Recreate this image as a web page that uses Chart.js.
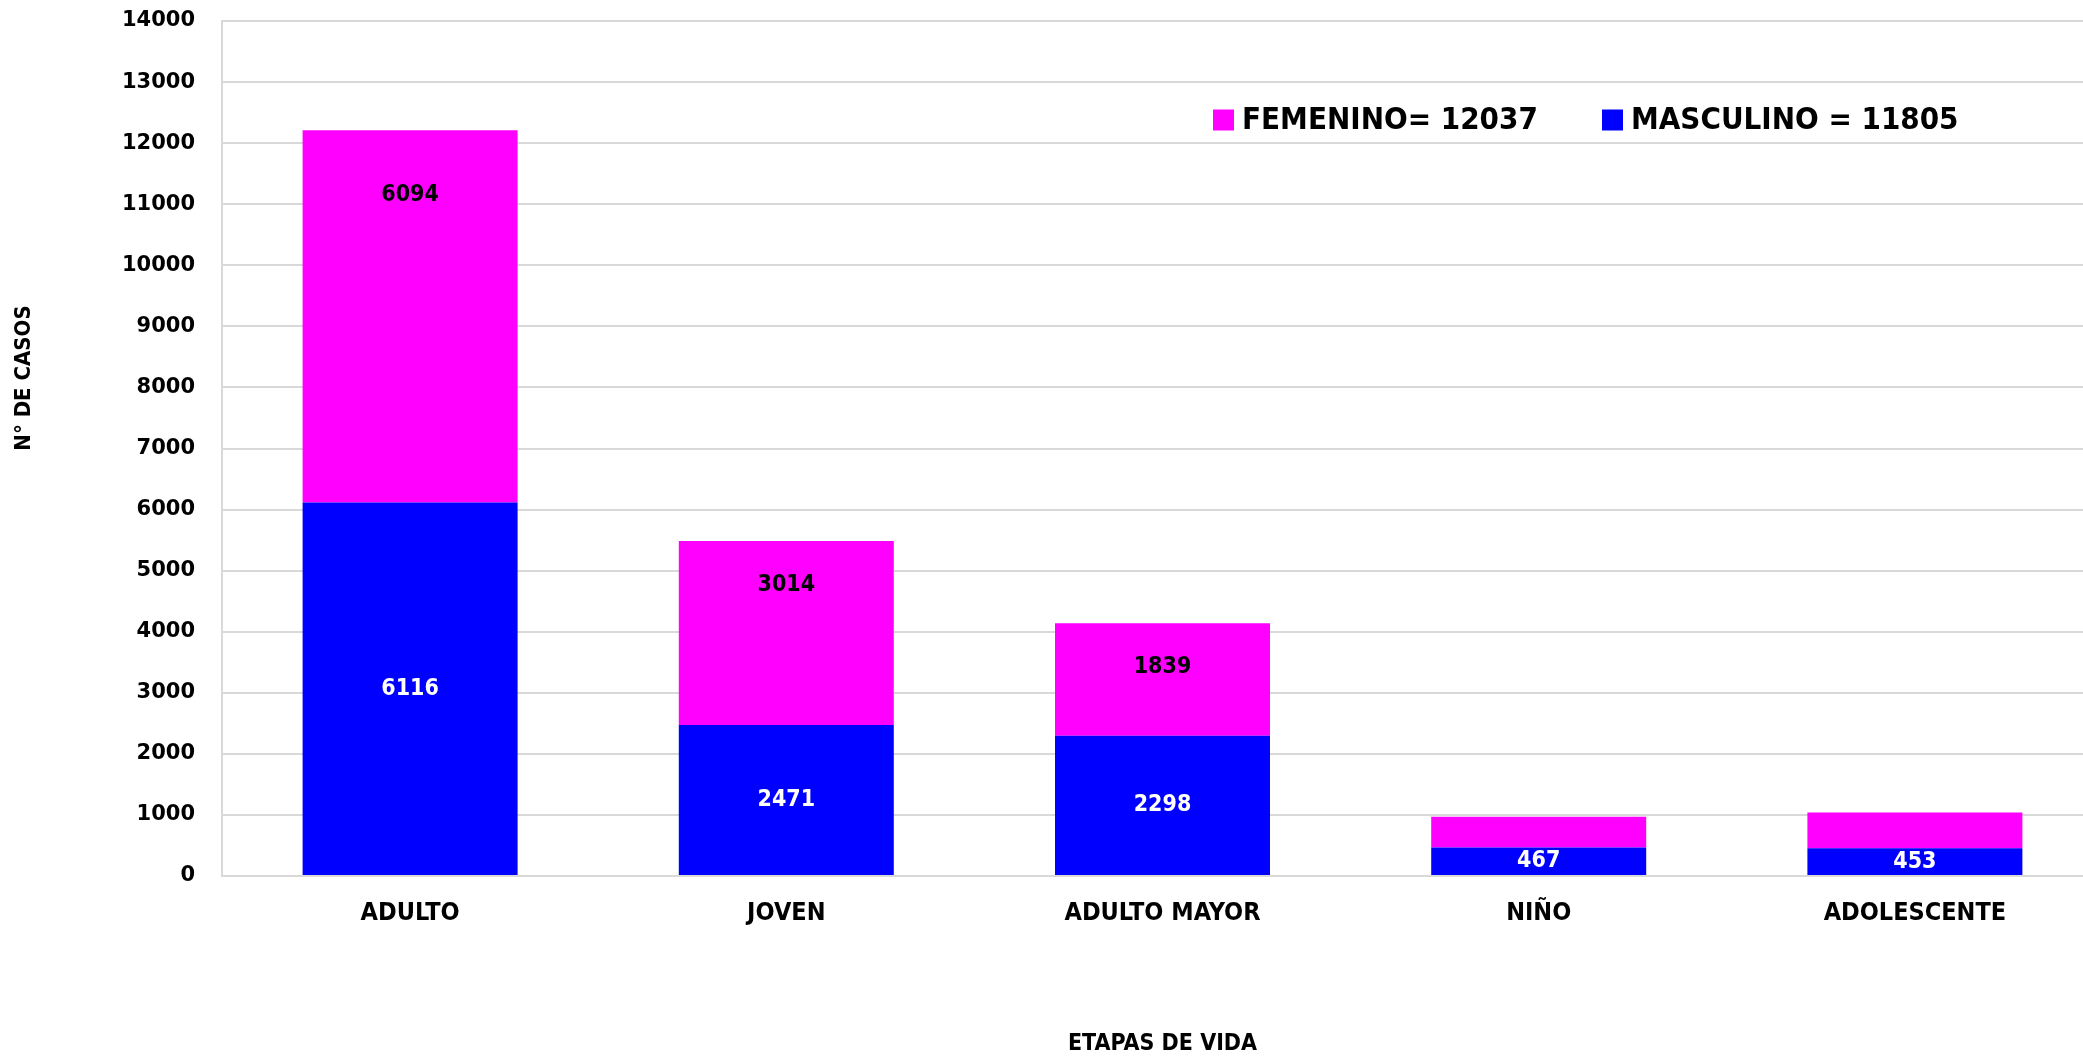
<!DOCTYPE html>
<html>
<head>
<meta charset="utf-8">
<script src="https://cdn.jsdelivr.net/npm/chart.js@4.4.1/dist/chart.umd.min.js"></script>
<style>
  html, body { margin: 0; padding: 0; background: #ffffff; overflow: hidden; }
  #wrap { position: absolute; left: 0; top: 0; width: 2103px; height: 1058px; }
</style>
</head>
<body>
<div id="wrap"><canvas id="c" width="2103" height="1058"></canvas></div>
<script>
// ---- data ----
const categories = ['ADULTO', 'JOVEN', 'ADULTO MAYOR', 'NIÑO', 'ADOLESCENTE'];
const masculino = [6116, 2471, 2298, 467, 453];
const femenino = [6094, 3014, 1839, 505, 585];
const seriesNames = ['MASCULINO = 11805', 'FEMENINO= 12037'];
const masculinoLabelShown = [true, true, true, true, true];
const femeninoLabelShown = [true, true, true, false, false];
const yTicks = [0, 1000, 2000, 3000, 4000, 5000, 6000, 7000, 8000, 9000, 10000, 11000, 12000, 13000, 14000];
const xAxisTitle = 'ETAPAS DE VIDA';
const yAxisTitle = 'N° DE CASOS';

// ---- styles ----
const BLUE = '#0000FF';
const MAGENTA = '#FF00FF';
const GRID = '#d9d9d9';
const NARROW = "'Liberation Sans Narrow', 'DejaVu Sans Condensed', 'Arial Narrow', sans-serif";

const barLabelPlugin = {
  id: 'barLabels',
  afterDatasetsDraw(chart, args, opts) {
    const ctx = chart.ctx;
    ctx.save();
    ctx.font = 'bold 23px ' + NARROW;
    ctx.textAlign = 'center';
    ctx.textBaseline = 'middle';
    const shown = [masculinoLabelShown, femeninoLabelShown];
    chart.data.datasets.forEach((ds, i) => {
      const meta = chart.getDatasetMeta(i);
      meta.data.forEach((bar, j) => {
        if (!shown[i][j]) return;
        const y = i === 0 ? (bar.y + bar.base) / 2 : bar.y + opts.topOffsets[j];
        ctx.fillStyle = opts.colors[i];
        ctx.fillText(String(ds.data[j]), bar.x, y);
      });
    });
    ctx.restore();
  }
};

const overlayPlugin = {
  id: 'overlay',
  afterDraw(chart, args, opts) {
    const ctx = chart.ctx;
    const area = chart.chartArea;
    ctx.save();
    // y axis title
    ctx.font = 'bold 22px ' + NARROW;
    ctx.fillStyle = '#000';
    ctx.textAlign = 'center';
    ctx.textBaseline = 'middle';
    ctx.translate(opts.yTitleX, area.top + opts.yTitleDy);
    ctx.rotate(-Math.PI / 2);
    ctx.fillText(yAxisTitle, 0, 0);
    ctx.restore();

    // legend (femenino first, then masculino)
    ctx.save();
    ctx.font = 'bold 31px ' + NARROW;
    ctx.textAlign = 'left';
    ctx.textBaseline = 'middle';
    const order = [1, 0];
    order.forEach((di, k) => {
      const ds = chart.data.datasets[di];
      const bx = opts.legendX[k];
      const cy = area.top + opts.legendDy;
      ctx.fillStyle = ds.backgroundColor;
      ctx.fillRect(bx, cy - 10.5, 21, 21);
      ctx.fillStyle = '#000';
      ctx.fillText(ds.label, bx + 29, cy + 1);
    });
    ctx.restore();
  }
};

new Chart(document.getElementById('c'), {
  type: 'bar',
  data: {
    labels: categories,
    datasets: [
      { label: seriesNames[0], data: masculino, backgroundColor: BLUE, borderWidth: 0 },
      { label: seriesNames[1], data: femenino, backgroundColor: MAGENTA, borderWidth: 0 }
    ]
  },
  options: {
    responsive: false,
    animation: false,
    layout: { padding: { top: 21, right: 0, bottom: 0, left: 0 } },
    datasets: { bar: { categoryPercentage: 1.0, barPercentage: 0.5715 } },
    plugins: {
      legend: { display: false },
      tooltip: { enabled: false },
      barLabels: { colors: ['#ffffff', '#000000'], topOffsets: [65, 44, 44, 40, 40] },
      overlay: { yTitleX: 24, yTitleDy: 357, legendX: [1213, 1602], legendDy: 99 }
    },
    scales: {
      x: {
        stacked: true,
        grid: { display: false, drawTicks: false },
        border: { display: false },
        ticks: {
          color: '#000',
          padding: 22,
          maxRotation: 0,
          font: { family: NARROW, size: 25, weight: 'bold' }
        },
        title: {
          display: true,
          text: xAxisTitle,
          color: '#000',
          padding: { top: 0, bottom: 2 },
          font: { family: NARROW, size: 23, weight: 'bold', lineHeight: 1.0 }
        },
        afterFit(scale) { scale.height = 182; }
      },
      y: {
        stacked: true,
        min: yTicks[0],
        max: yTicks[yTicks.length - 1],
        grid: { color: GRID, lineWidth: 2, drawTicks: false },
        border: { display: true, color: GRID, width: 2 },
        afterBuildTicks(scale) { scale.ticks = yTicks.map(v => ({ value: v })); },
        ticks: {
          color: '#000',
          padding: 27,
          callback: (v) => String(v),
          font: { family: "'DejaVu Sans', sans-serif", size: 21, weight: 'bold' }
        },
        afterFit(scale) { scale.width = 222; scale.paddingTop = 0; scale.paddingBottom = 0; }
      }
    }
  },
  plugins: [barLabelPlugin, overlayPlugin]
});
</script>
</body>
</html>
